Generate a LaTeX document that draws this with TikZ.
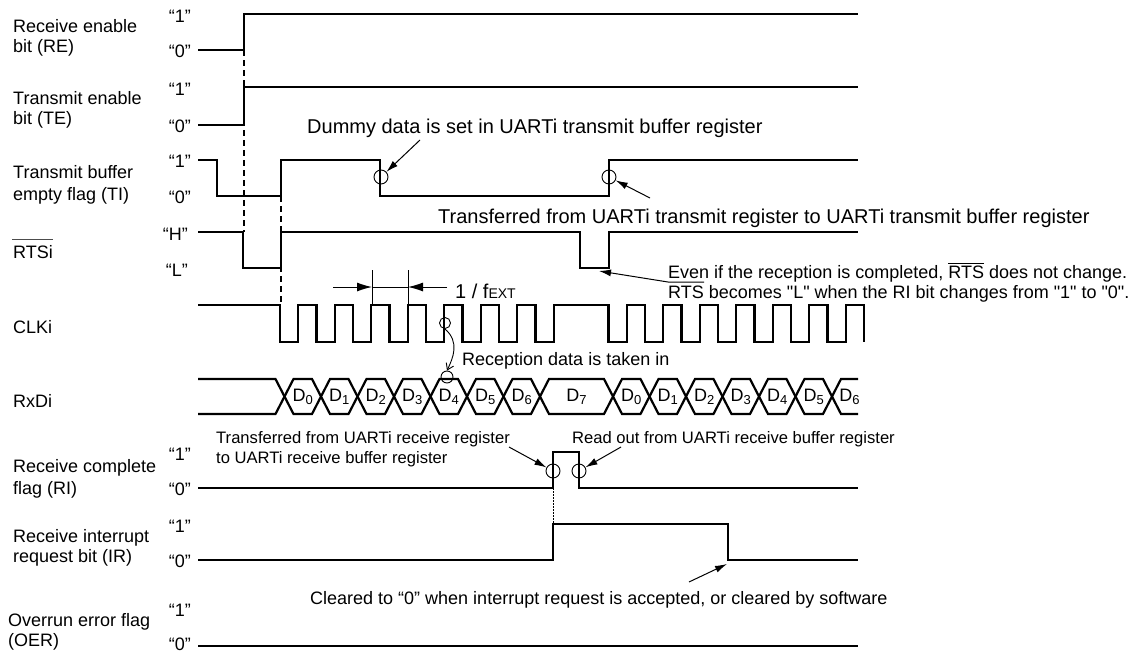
\documentclass[tikz,border=0pt]{standalone}
\usepackage{fontspec}
\setmainfont{Liberation Sans}
\newfontface\sqfont{Liberation Sans}[Ligatures=ResetAll]
\usetikzlibrary{arrows.meta}
\newcommand\myovl[1]{\vbox{\hrule height 0.8pt\kern 1.6pt\hbox{#1}}}
\newcommand\dsub[1]{\raisebox{-2.5pt}{\fontsize{13}{13}\selectfont #1}}
\newcommand\sq{{\sqfont\char34}}
\begin{document}
\begin{tikzpicture}[x=1pt,y=-1pt,
  sig/.style={line width=2.2pt},
  sigthin/.style={line width=1.4pt},
  guide/.style={line width=1.2pt, dash pattern=on 6pt off 4pt},
  fine/.style={line width=0.9pt},
  lbl/.style={font=\fontsize{18}{21}\selectfont, anchor=base west, inner sep=0pt},
  lvl/.style={font=\fontsize{18}{20}\selectfont, anchor=east, inner sep=0pt},
  noteL/.style={font=\fontsize{20}{24}\selectfont, anchor=base west, inner sep=0pt},
  noteM/.style={font=\fontsize{18}{21}\selectfont, anchor=base west, inner sep=0pt},
  noteS/.style={font=\fontsize{16.6}{20}\selectfont, anchor=base west, inner sep=0pt},
  dlab/.style={font=\fontsize{18}{18}\selectfont, inner sep=0pt},
  ptr/.style={line width=1pt, -{Latex[length=12pt,width=7pt]}},
  ring/.style={circle, draw, line width=0.9pt, minimum size=14pt, inner sep=0pt},
]
\fill[white] (0,0) rectangle (1141,653);
\useasboundingbox (0,0) rectangle (1141,653);

% ---- left labels ----
\node[lbl] (reA) at (13,32) {Receive enable};
\node[lbl] (reB) at (13,52) {bit (RE)};
\node[lbl] (teA) at (13,104) {Transmit enable};
\node[lbl] (teB) at (13,124) {bit (TE)};
\node[lbl] (tiA) at (13,178) {Transmit buffer};
\node[lbl] (tiB) at (13,200) {empty flag (TI)};
\node[lbl] (rts) at (13,258) {RTSi};
\draw[line width=0.7pt, black!70] (12,239) -- (53,239);
\node[lbl] (clk) at (13,333) {CLKi};
\node[lbl] (rxd) at (13,407) {RxDi};
\node[lbl] (riA) at (13,472) {Receive complete};
\node[lbl] (riB) at (13,494) {flag (RI)};
\node[lbl] (irA) at (13,542) {Receive interrupt};
\node[lbl] (irB) at (13,562) {request bit (IR)};
\node[lbl] (oeA) at (8,626) {Overrun error flag};
\node[lbl] (oeB) at (8,646) {(OER)};

% ---- level labels ----
\node[lvl] (re1) at (191,16) {“1”};
\node[lvl] (re0) at (191,51) {“0”};
\node[lvl] (te1) at (191,89) {“1”};
\node[lvl] (te0) at (191,126) {“0”};
\node[lvl] (ti1) at (191,161) {“1”};
\node[lvl] (ti0) at (191,197) {“0”};
\node[lvl] (rtH) at (188,234) {“H”};
\node[lvl] (rtL) at (188,270) {“L”};
\node[lvl] (ri1) at (191,454) {“1”};
\node[lvl] (ri0) at (191,489) {“0”};
\node[lvl] (ir1) at (191,526) {“1”};
\node[lvl] (ir0) at (191,561) {“0”};
\node[lvl] (oe1) at (191,610) {“1”};
\node[lvl] (oe0) at (191,644) {“0”};

% ---- guides ----
\draw[guide] (244,50) -- (244,232);
\draw[guide] (281,196) -- (281,305);
\draw[line width=0.8pt, dash pattern=on 1.5pt off 1.5pt] (553,488) -- (553,560);

% ---- waveforms ----
\draw[sig] (198,50) -- (244,50) -- (244,14) -- (858,14);
\draw[sig] (198,125) -- (244,125) -- (244,87);
\draw[sigthin] (243.3,87) -- (858,87);
\draw[sig] (198,160) -| (217,196) -| (281,160) -| (380,196) -| (609,160) -- (858,160);
\draw[sig] (198,232) -| (243,268) -| (281,232) -| (580,268) -| (609,232) -- (858,232);
\draw[sig] (198,305) -- (280,305)
  \foreach \k in {1,...,8} { -- ++(0,37) -- ++(18.25,0) -- ++(0,-37) -- ++(18.25,0) }
  -- (608.5,305)
  \foreach \k in {1,...,7} { -- ++(0,37) -- ++(18.25,0) -- ++(0,-37) -- ++(18.25,0) }
  -- ++(0,37);
\draw[sig] (198,379)
  \foreach \c/\ya/\yb in {284.5/379/414,321/414/379,357.5/379/414,394/414/379,430.5/379/414,467/414/379,503.5/379/414,540/414/379,613/379/414,649.5/414/379,686/379/414,722.5/414/379,759/379/414,795.5/414/379,832/379/414}
  { -- ({\c-9},\ya) -- ({\c+9},\yb) } -- (858,414);
\draw[sig] (198,414)
  \foreach \c/\ya/\yb in {284.5/414/379,321/379/414,357.5/414/379,394/379/414,430.5/414/379,467/379/414,503.5/414/379,540/379/414,613/414/379,649.5/379/414,686/414/379,722.5/379/414,759/414/379,795.5/379/414,832/414/379}
  { -- ({\c-9},\ya) -- ({\c+9},\yb) } -- (858,379);
\draw[sig] (198,488) -| (553,452) -| (579,488) -- (858,488);
\draw[sig] (198,560) -| (553,524) -| (728,560) -- (858,560);
\draw[sig] (198,646) -- (858,646);

% ---- data labels ----
\foreach \x/\d [count=\i] in {302.75/0,339.25/1,375.75/2,412.25/3,448.75/4,485.25/5,521.75/6,576.5/7,631.25/0,667.75/1,704.25/2,740.75/3,777.25/4,813.75/5,849.5/6}
  \node[dlab] (dl\i) at (\x,397) {D\dsub{\d}};

% ---- 1/fEXT ----
\draw[fine] (372,270) -- (372,305);
\draw[fine] (408,270) -- (408,305);
\draw[fine] (372,287) -- (408,287);
\coordinate (fa) at (333,287);
\coordinate (fb) at (372,287);
\coordinate (fc) at (447,287);
\coordinate (fd) at (408,287);
\draw[line width=1pt, -{Latex[length=15pt,width=9pt]}] (fa) -- (fb);
\draw[line width=1pt, -{Latex[length=15pt,width=9pt]}] (fc) -- (fd);
\node[noteL] (fext) at (455,298) {1 / f{\fontsize{14}{14}\selectfont EXT}};

% ---- annotations ----
\node[noteL] (dummy) at (307,133) {Dummy data is set in UARTi transmit buffer register};
\node[ring] (c1) at (381,177) {};
\coordinate (dt) at (420,140);
\draw[ptr] (dt) -- (c1);

\node[noteL] (xfer) at (438,223) {Transferred from UARTi transmit register to UARTi transmit buffer register};
\node[ring] (c2) at (609,177) {};
\coordinate (xt) at (650,198);
\draw[ptr] (xt) -- (c2);

\node[noteM] (even) at (668,278) {Even if the reception is completed, \myovl{RTS} does not change.};
\node[noteM] (rtsb) at (668,298) {RTS becomes \sq L\sq{} when the RI bit changes from \sq 1\sq{} to \sq 0\sq.};
\coordinate (ea) at (704,282);
\coordinate (eb) at (668,282);
\coordinate (ec) at (599,271);
\draw[ptr] (ea) -- (eb) -- (ec);

\node[ring, minimum size=11pt] (c3) at (445,323) {};
\node[ring, minimum size=12pt] (c4) at (447,377) {};
\node[noteM] (recv) at (462,365) {Reception data is taken in};
\draw[line width=0.9pt, -{Straight Barb[length=6pt,width=8pt]}] (c3.south) .. controls (460,342) and (453,358) .. (c4.north);

\node[noteS] (tr1) at (216,443) {Transferred from UARTi receive register};
\node[noteS] (tr2) at (216,463) {to UARTi receive buffer register};
\node[ring] (c5) at (553,471) {};
\coordinate (ta) at (509,447);
\draw[ptr] (ta) -- (c5);

\node[noteS] (rd) at (572,443) {Read out from UARTi receive buffer register};
\node[ring] (c6) at (579,471) {};
\coordinate (ra) at (621,447);
\draw[ptr] (ra) -- (c6);

\node[noteM] (clr) at (310,604) {Cleared to “0” when interrupt request is accepted, or cleared by software};
\coordinate (ca) at (689,582);
\coordinate (cb) at (727,564);
\draw[ptr] (ca) -- (cb);
\end{tikzpicture}
\end{document}
